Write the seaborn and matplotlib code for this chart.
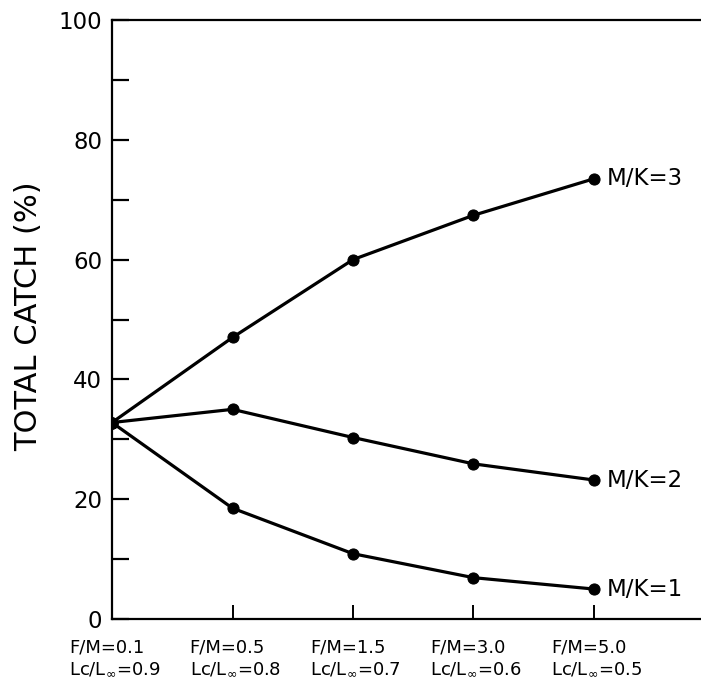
import matplotlib
matplotlib.use("Agg")
import matplotlib.pyplot as plt
import matplotlib.transforms as mtransforms
import seaborn as sns
import pandas as pd
import numpy as np

# ---- data ----
positions = [0, 1, 2, 3, 4]
fm_labels = ["F/M=0.1", "F/M=0.5", "F/M=1.5", "F/M=3.0", "F/M=5.0"]
lc_labels = ["0.9", "0.8", "0.7", "0.6", "0.5"]
mk3 = [32.8, 47.0, 60.0, 67.4, 73.5]
mk2 = [32.8, 35.0, 30.3, 25.9, 23.2]
mk1 = [32.8, 18.5, 10.9, 6.9, 5.0]
series_names = ["M/K=3", "M/K=2", "M/K=1"]
y_label = "TOTAL CATCH (%)"

df = pd.concat([
    pd.DataFrame({"x": positions, "y": vals, "series": name})
    for name, vals in zip(series_names, [mk3, mk2, mk1])
], ignore_index=True)

sns.set_style("ticks")
plt.rcParams["font.family"] = ["DejaVu Sans"]
plt.rcParams["text.color"] = "black"
plt.rcParams["xtick.color"] = "black"
plt.rcParams["ytick.color"] = "black"
plt.rcParams["xtick.labelcolor"] = "black"
plt.rcParams["ytick.labelcolor"] = "black"
plt.rcParams["axes.labelcolor"] = "black"

W, H = 701, 686
fig = plt.figure(figsize=(W / 100, H / 100), dpi=100)
left, right, top, bottom = 112, 701, 20, 619
ax = fig.add_axes([left / W, (H - bottom) / H, (right - left) / W, (bottom - top) / H])

sns.lineplot(data=df, x="x", y="y", hue="series", units="series", estimator=None,
             palette={n: "black" for n in series_names}, marker="o",
             markersize=8, markeredgecolor="black", linewidth=2.3, legend=False, ax=ax)

ax.set_xlim(0, (right - left) / 120.5)
ax.set_ylim(0, 100)

for spine in ["left", "bottom", "top"]:
    ax.spines[spine].set_linewidth(1.6)
    ax.spines[spine].set_color("black")
ax.spines["right"].set_visible(False)

ax.set_yticks([0, 20, 40, 60, 80, 100])
ax.set_yticks([10, 30, 50, 70, 90], minor=True)
ax.tick_params(axis="y", which="both", direction="in", length=12, width=1.6,
               labelsize=16.5, pad=7, right=False, colors="black")
ax.tick_params(axis="x", direction="in", length=10, width=1.4, labelsize=13, pad=14,
               top=False, colors="black")

ax.set_xticks(positions)
xt = [f"{a}\nLc/L$_{{\\infty}}$={b}" for a, b in zip(fm_labels, lc_labels)]
ax.set_xticklabels(xt, ha="left", multialignment="left", linespacing=1.25, color="black")
off = mtransforms.ScaledTranslation(-43 / 100, 0, fig.dpi_scale_trans)
for lab in ax.get_xticklabels():
    lab.set_transform(lab.get_transform() + off)

ax.set_xlabel("")
ax.set_ylabel("")
fig.text(29 / W, 1 - 316 / H, y_label, rotation=90, ha="center", va="center",
         fontsize=22, color="black")

for name, vals in zip(series_names, [mk3, mk2, mk1]):
    ax.annotate(name, xy=(positions[-1], vals[-1]), xytext=(9, 0),
                textcoords="offset points", va="center", ha="left", fontsize=16.5,
                color="black")

fig.savefig("out.png", dpi=100)
